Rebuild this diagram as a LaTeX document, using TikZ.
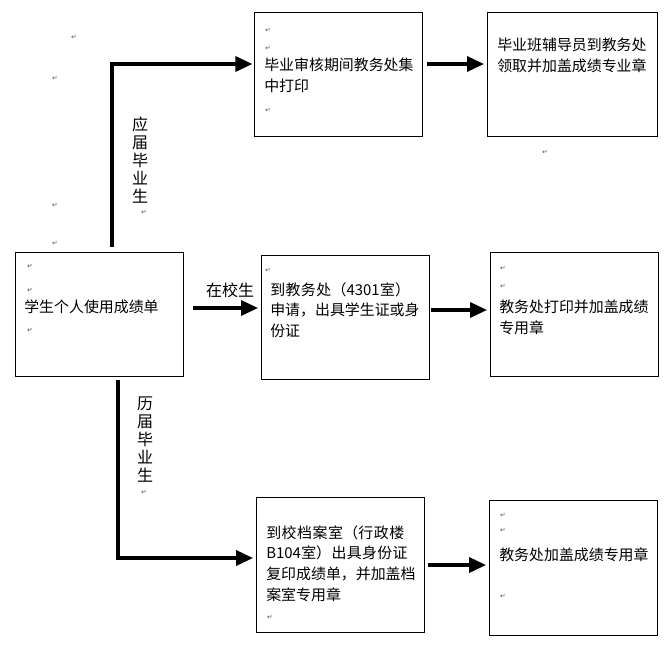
\documentclass[tikz,border=0pt]{standalone}
\usepackage{fontspec}
\setmainfont{Liberation Serif}
\newfontfamily\cjk{Noto Sans CJK SC}
\newfontfamily\dvs{DejaVu Sans}
\XeTeXlinebreaklocale "zh"
\XeTeXlinebreakskip=0pt plus 1pt
\usetikzlibrary{arrows.meta}
\begin{document}
\begin{tikzpicture}[x=0.75pt,y=-0.75pt,
  box/.style={draw,line width=0.6pt,minimum width=126pt,minimum height=93pt,anchor=north west,inner sep=0pt},
  txt/.style={anchor=north west,align=left,font=\cjk\fontsize{11.2}{15.5}\selectfont,text width=112pt,inner sep=0pt},
  pm/.style={font=\dvs\fontsize{5}{5}\selectfont,text=black!70,inner sep=0pt},
  big/.style={line width=3.4pt,-{Triangle[length=13pt,width=11pt]}},
  vlab/.style={font=\cjk\fontsize{12}{13.5}\selectfont,align=center,anchor=north}]
\useasboundingbox (0,0) rectangle (671,650);
\node[box] (A) at (15,252) {};
\node[box] (B) at (254,12) {};
\node[box,minimum width=127.5pt] (C) at (487,12) {};
\node[box] (D) at (261,255) {};
\node[box] (E) at (490,252) {};
\node[box,minimum height=101pt] (F) at (256,497) {};
\node[box,minimum height=101pt] (G) at (489,500) {};
\node[txt] (At) at (24,300) {学生个人使用成绩单};
\node[txt] (Bt) at (264,58) {毕业审核期间教务处集中打印};
\node[txt] (Ct) at (497,38) {毕业班辅导员到教务处领取并加盖成绩专业章};
\node[txt] (Dt) at (270,282) {到教务处（4301室）申请，出具学生证或身份证};
\node[txt] (Et) at (499,300) {教务处打印并加盖成绩专用章};
\node[txt] (Ft) at (266,525) {到校档案室（行政楼B104室）出具身份证复印成绩单，并加盖档案室专用章};
\node[txt] (Gt) at (499,547) {教务处加盖成绩专用章};
% paragraph marks
\foreach \p in {(30,266),(30,290),(30,330),(268,30),(268,48),(268,110),(268,270),(503,268),(503,286),(270,617),(503,515),(503,530),(503,596),(74,37),(55,78),(55,205),(55,243),(545,152),(144,212),(144,492)}
  \node[pm] at \p {↵};
\coordinate (up0) at (112,247);
\coordinate (up1) at (112,64);
\draw[big] (up0) -- (up1) -- ([xshift=-1pt]B.west|-up1);
\draw[big] (B.east|-up1) ++(3pt,0) -- ([xshift=-2pt]C.west|-up1);
\coordinate (m0) at (193,308);
\draw[big] (m0) -- ([xshift=-2pt]D.west|-m0);
\node[font=\cjk\fontsize{12}{12}\selectfont] (zl) at (230,290) {在校生};
\coordinate (d0) at (431,310);
\draw[big] (d0) -- ([xshift=-2pt]E.west|-d0);
\coordinate (dn0) at (118,380);
\coordinate (dn1) at (118,558);
\draw[big] (dn0) -- (dn1) -- ([xshift=-2pt]F.west|-dn1);
\coordinate (f0) at (428,565);
\draw[big] (f0) -- ([xshift=-2pt]G.west|-f0);
\node[vlab] (L1) at (140,112) {应\\届\\毕\\业\\生};
\node[vlab] (L2) at (145,392) {历\\届\\毕\\业\\生};
\end{tikzpicture}
\end{document}
